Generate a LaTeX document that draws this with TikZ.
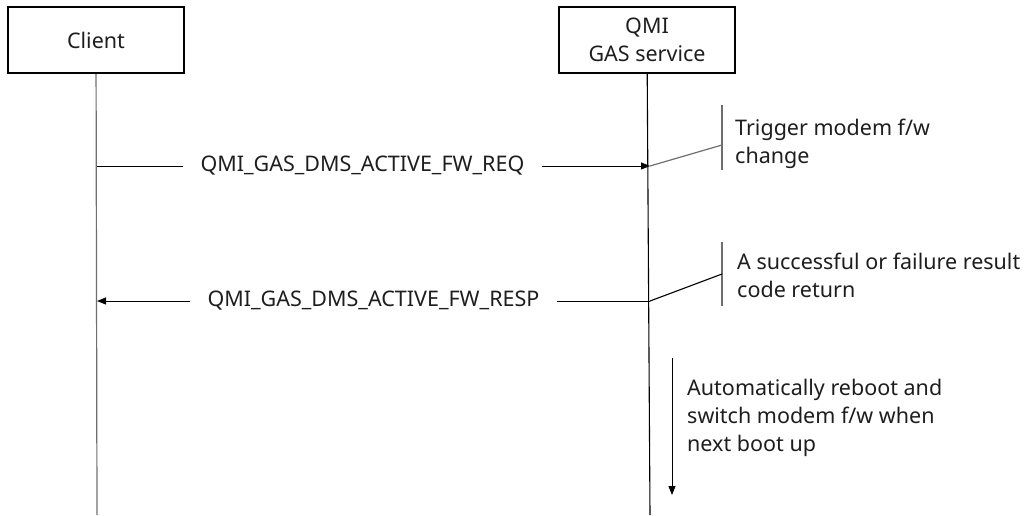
\documentclass[tikz,border=0pt]{standalone}
\usepackage{fontspec}
\setmainfont{Noto Sans}
\usetikzlibrary{arrows.meta}
\definecolor{lifegray}{RGB}{110,110,110}
\definecolor{inkgray}{RGB}{30,30,30}
\begin{document}
\begin{tikzpicture}[x=1pt,y=-1pt, every node/.style={font=\fontsize{21.5}{28}\selectfont, text=inkgray},
  party/.style={draw, line width=1.5pt, minimum width=176, minimum height=66, align=center},
  note/.style={anchor=west, align=left, inner sep=0pt},
  msg/.style={-{Triangle[length=9pt,width=7pt]}, line width=1pt}]
\useasboundingbox (0,0) rectangle (1032,515);
% Define all the nodes.
% Client
\node[party] (client) at (96,40) {Client};
% QMI GAS service
\node[party] (qmi) at (647,40) {QMI\\GAS service};
% Lifeline ends
\coordinate (client_end) at (97,515);
\coordinate (qmi_end) at (650,515);
% Message points
\coordinate (req_from) at (97,166);
\coordinate (req_to) at (650,166);
\coordinate (resp_from) at (650,301);
\coordinate (resp_to) at (97,301);
% Notes
\node[note] (note_req) at (735,144) {Trigger modem f/w\\change};
\node[note] (note_resp) at (737,275) {A successful or failure result\\code return};
\node[note] (note_boot) at (687,418) {Automatically reboot and\\switch modem f/w when\\next boot up};
% Note brackets
\coordinate (req_top) at (722,105);
\coordinate (req_bot) at (722,170);
\coordinate (req_mid) at (722,145);
\coordinate (resp_top) at (722,242);
\coordinate (resp_bot) at (722,306);
\coordinate (resp_mid) at (722,274);
\coordinate (boot_top) at (672,358);
\coordinate (boot_bot) at (672,495);
% Draw the lifelines
\draw[lifegray, line width=1.2pt] (client) -- (client_end);
\draw[line width=1.1pt] (qmi) -- (qmi_end);
% Draw the messages
\draw[msg] (req_from) -- node[fill=white, inner xsep=18pt, pos=0.48] {QMI\_GAS\_DMS\_ACTIVE\_FW\_REQ} (req_to);
\draw[msg] (resp_from) -- node[fill=white, inner xsep=18pt, pos=0.5] {QMI\_GAS\_DMS\_ACTIVE\_FW\_RESP} (resp_to);
% Draw the notes
\draw[lifegray, line width=1.5pt] (req_top) -- (req_bot);
\draw[lifegray, line width=1.2pt] (req_to) -- (req_mid);
\draw[lifegray, line width=1.5pt] (resp_top) -- (resp_bot);
\draw[line width=1.1pt] (resp_from) -- (resp_mid);
\draw[msg] (boot_top) -- (boot_bot);
\end{tikzpicture}
\end{document}
